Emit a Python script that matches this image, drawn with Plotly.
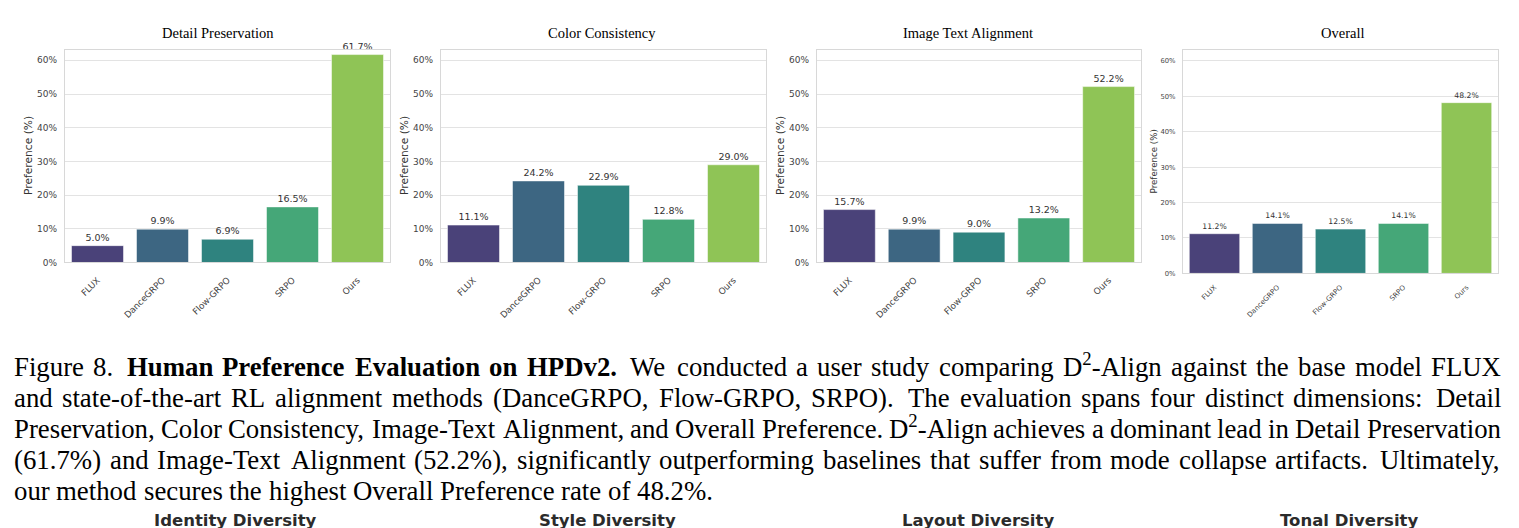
import plotly.graph_objects as go

W, H = 1519, 528

# ---------------- data ----------------
models = ["FLUX", "DanceGRPO", "Flow-GRPO", "SRPO", "Ours"]
detail_preservation = [5.0, 9.9, 6.9, 16.5, 61.7]
color_consistency = [11.1, 24.2, 22.9, 12.8, 29.0]
image_text_alignment = [15.7, 9.9, 9.0, 13.2, 52.2]
overall = [11.2, 14.1, 12.5, 14.1, 48.2]
panel_titles = ["Detail Preservation", "Color Consistency", "Image Text Alignment", "Overall"]
y_tick_values = [0, 10, 20, 30, 40, 50, 60]
y_tick_labels = ["0%", "10%", "20%", "30%", "40%", "50%", "60%"]
y_axis_title = "Preference (%)"
bar_colors = ["#4a4279", "#3d6682", "#2f837f", "#45a778", "#8fc456"]

caption_lines = [
    [("Figure 8.", False), ("Human Preference Evaluation on HPDv2.", True),
     ("We conducted a user study comparing D²-Align against the base model FLUX", False)],
    [("and state-of-the-art RL alignment methods (DanceGRPO, Flow-GRPO, SRPO). The evaluation spans four distinct dimensions: Detail", False)],
    [("Preservation, Color Consistency, Image-Text Alignment, and Overall Preference. D²-Align achieves a dominant lead in Detail Preservation", False)],
    [("(61.7%) and Image-Text Alignment (52.2%), significantly outperforming baselines that suffer from mode collapse artifacts. Ultimately,", False)],
    [("our method secures the highest Overall Preference rate of 48.2%.", False)],
]
caption_justified = [True, True, True, True, False]
next_row_titles = ["Identity Diversity", "Style Diversity", "Layout Diversity", "Tonal Diversity"]

series = [detail_preservation, color_consistency, image_text_alignment, overall]

# ---------------- layout constants ----------------
PANELS = [
    dict(left=65, right=390, top=50, bottom=265, title_x=218, ytitle_x=28, small=False),
    dict(left=441, right=766, top=50, bottom=265, title_x=602, ytitle_x=404, small=False),
    dict(left=817, right=1141, top=50, bottom=265, title_x=968, ytitle_x=780, small=False),
    dict(left=1183, right=1498, top=50, bottom=276, title_x=1342, ytitle_x=1154, small=True),
]
Y_MAX = 63.2
GRID = "#e3e3e3"
FRAME = "#d8d8d8"
TXT = "#333333"
SANS = "DejaVu Sans"
SERIF = "Liberation Serif, Times New Roman, serif"


def px(x):
    return x / W


def py(y):
    return 1 - y / H


fig = go.Figure()
layout = dict(
    width=W, height=H, margin=dict(l=0, r=0, t=0, b=0),
    paper_bgcolor="white", plot_bgcolor="white", showlegend=False,
    font=dict(family=SANS, color=TXT), bargap=0.2,
)
annotations = []

for i, (vals, title, p) in enumerate(zip(series, panel_titles, PANELS)):
    sfx = "" if i == 0 else str(i + 1)
    small = p["small"]
    tick_fs = 6.8 if small else 9
    xtick_fs = 7 if small else 8.8
    val_fs = 7.7 if small else 9.5
    ytitle_fs = 8.7 if small else 10.7

    fig.add_trace(go.Bar(
        x=models, y=vals, xaxis="x" + sfx, yaxis="y" + sfx,
        width=0.8,
        marker=dict(color=bar_colors, line=dict(color="rgba(255,255,255,0.5)", width=1)),
        text=[f"{v:.1f}%" for v in vals], textposition="outside",
        textfont=dict(family=SANS, size=val_fs, color=TXT),
        constraintext="none", cliponaxis=False, hoverinfo="x+y",
    ))
    layout["xaxis" + sfx] = dict(
        domain=[px(p["left"]), px(p["right"])], anchor="y" + sfx,
        type="category", range=[-0.5, 4.5], tickangle=-45,
        showline=True, mirror=True, linecolor=FRAME, linewidth=1.3,
        showgrid=False, zeroline=False,
        ticks="outside", ticklen=8 if not small else 6, tickcolor="rgba(0,0,0,0)",
        tickfont=dict(family=SANS, size=xtick_fs, color="#444444"),
    )
    layout["yaxis" + sfx] = dict(
        domain=[py(p["bottom"]), py(p["top"])], anchor="x" + sfx,
        range=[0, Y_MAX], tickvals=y_tick_values, ticktext=y_tick_labels,
        showgrid=True, gridcolor=GRID, gridwidth=1, zeroline=False,
        showline=True, mirror=True, linecolor=FRAME, linewidth=1.3,
        ticks="outside", ticklen=5, tickcolor="rgba(0,0,0,0)",
        tickfont=dict(family=SANS, size=tick_fs, color="#444444"),
    )
    annotations.append(dict(
        text=title, xref="paper", yref="paper", x=px(p["title_x"]), y=py(33),
        xanchor="center", yanchor="middle", showarrow=False,
        font=dict(family=SERIF, size=14.5, color="black"),
    ))
    annotations.append(dict(
        text=y_axis_title, xref="paper", yref="paper", x=px(p["ytitle_x"]),
        y=py((p["top"] + p["bottom"]) / 2), textangle=-90,
        xanchor="center", yanchor="middle", showarrow=False,
        font=dict(family=SANS, size=ytitle_fs, color=TXT),
    ))

# ---------------- caption (justified, word by word) ----------------
REG_W = dict(zip("abcdefghijklmnopqrstuvwxyz",
                 [444, 500, 444, 500, 444, 333, 500, 500, 278, 278, 500, 278, 778,
                  500, 500, 500, 500, 333, 389, 278, 500, 500, 722, 500, 500, 444]))
REG_W.update(dict(zip("ABCDEFGHIJKLMNOPQRSTUVWXYZ",
                      [722, 667, 667, 722, 611, 556, 722, 722, 333, 389, 722, 611, 889,
                       722, 722, 556, 722, 667, 556, 611, 722, 722, 944, 722, 722, 611])))
REG_W.update({d: 500 for d in "0123456789"})
REG_W.update({".": 250, ",": 250, ":": 278, ";": 278, "-": 333, "(": 333, ")": 333, "%": 833})
BOLD_W = dict(zip("abcdefghijklmnopqrstuvwxyz",
                  [500, 556, 444, 556, 444, 333, 500, 556, 278, 333, 556, 278, 833,
                   556, 500, 556, 556, 444, 389, 333, 556, 500, 722, 500, 500, 444]))
BOLD_W.update(dict(zip("ABCDEFGHIJKLMNOPQRSTUVWXYZ",
                       [722, 667, 722, 722, 667, 611, 778, 778, 389, 500, 778, 667, 944,
                        722, 778, 611, 778, 722, 556, 667, 722, 722, 1000, 722, 722, 667])))
BOLD_W.update({d: 500 for d in "0123456789"})
BOLD_W.update({".": 250, ",": 250, ":": 333, "-": 333, "(": 333, ")": 333, "%": 1000})

CAP_FS = 26.8
CAP_LEFT, CAP_RIGHT = 14, 1501
CAP_BASE0, CAP_LEAD = 380, 31.3


def word_width(word, bold):
    t = BOLD_W if bold else REG_W
    w = 0
    for ch in word:
        w += 0.7 * t["2"] if ch == "²" else t.get(ch, 500)
    return w * CAP_FS / 1000


def stretch_weight(word):
    if word.endswith("."):
        return 2.5
    if word.endswith(":"):
        return 2.0
    if word.endswith(","):
        return 1.25
    return 1.0


for li, (segments, just) in enumerate(zip(caption_lines, caption_justified)):
    words = []
    for seg, bold in segments:
        for w in seg.split():
            words.append((w, bold))
    widths = [word_width(w, b) for w, b in words]
    base_gap = 0.25 * CAP_FS
    weights = [stretch_weight(w) for w, _ in words[:-1]]
    natural = sum(widths) + base_gap * len(weights)
    extra = (CAP_RIGHT - CAP_LEFT - natural) if just else 0.0
    unit = extra / sum(weights) if weights else 0
    x = CAP_LEFT
    baseline = CAP_BASE0 + li * CAP_LEAD
    for k, ((w, bold), ww) in enumerate(zip(words, widths)):
        txt = w.replace("²", "<sup>2</sup>")
        if bold:
            txt = "<b>" + txt + "</b>"
        annotations.append(dict(
            text=txt, xref="paper", yref="paper", x=px(x), y=py(baseline + 0.216 * CAP_FS),
            xanchor="left", yanchor="bottom", showarrow=False, borderpad=0, borderwidth=0,
            font=dict(family=SERIF, size=CAP_FS, color="black"),
        ))
        if k < len(weights):
            x += ww + base_gap + unit * weights[k]

# ---------------- headings of next figure row (cut off at the bottom edge) ----------------
for t, cx in zip(next_row_titles, [235, 607, 978, 1349]):
    annotations.append(dict(
        text="<b>" + t + "</b>", xref="paper", yref="paper", x=px(cx), y=py(525),
        xanchor="center", yanchor="middle", showarrow=False,
        font=dict(family="DejaVu Sans", size=16.5, color="#2b2b2b"),
    ))

layout["annotations"] = annotations
fig.update_layout(**layout)
fig.write_html("out.html")
